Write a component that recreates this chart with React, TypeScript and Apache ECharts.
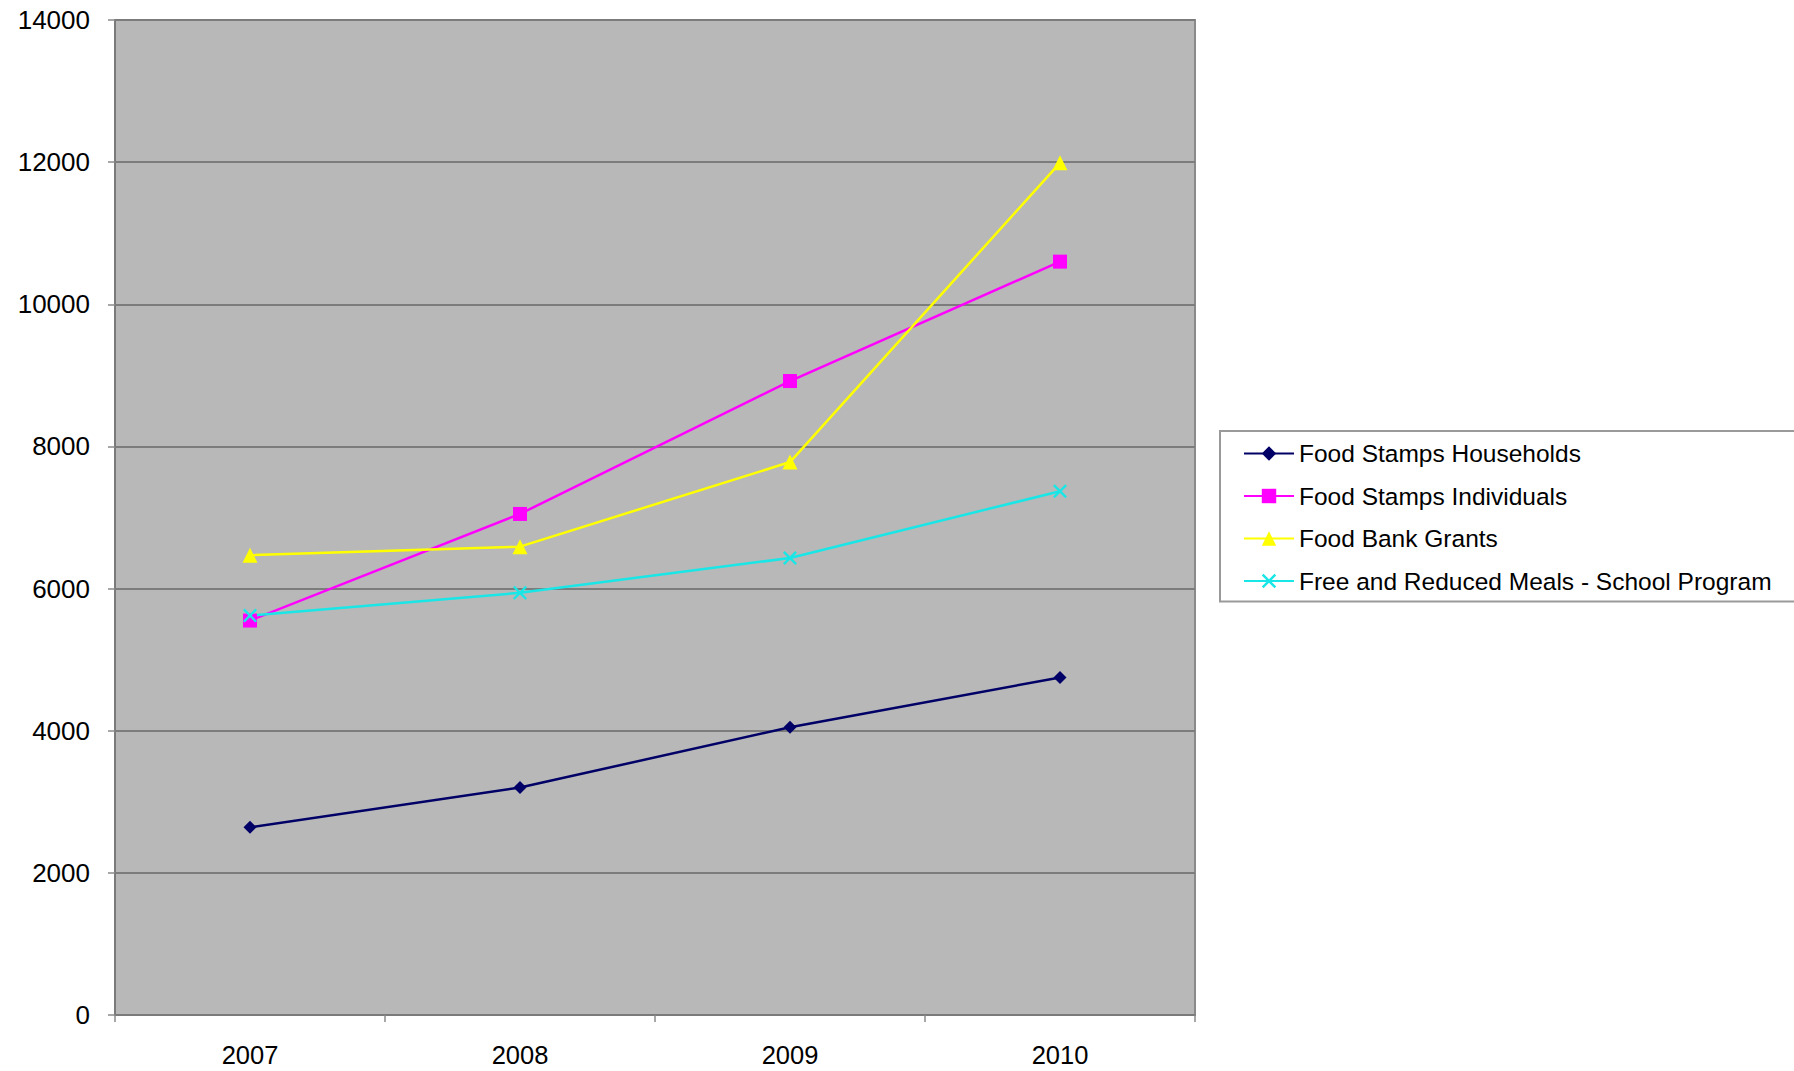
import React, { useEffect, useRef } from "react";
import * as echarts from "echarts";

const years = ["2007", "2008", "2009", "2010"];
const foodStampsHouseholds = [2640, 3200, 4050, 4750];
const foodStampsIndividuals = [5550, 7050, 8920, 10600];
const foodBankGrants = [6470, 6590, 7780, 11990];
const freeReducedMeals = [5620, 5940, 6430, 7370];
const seriesNames = [
  "Food Stamps Households",
  "Food Stamps Individuals",
  "Food Bank Grants",
  "Free and Reduced Meals - School Program",
];

const FONT = "'Liberation Sans', Arial, Helvetica, sans-serif";
const X_SYMBOL =
  "path://M0,1.2L1.2,0L5,3.8L8.8,0L10,1.2L6.2,5L10,8.8L8.8,10L5,6.2L1.2,10L0,8.8L3.8,5Z";

export default function App() {
  const ref = useRef<HTMLDivElement>(null);
  useEffect(() => {
    document.body.style.margin = "0";
    const chart = echarts.init(ref.current!, null, { renderer: "svg" });
    const mk = (name: string, data: number[], color: string, symbol: string, size: number) => ({
      name,
      type: "line",
      data,
      symbol,
      symbolSize: size,
      lineStyle: { color, width: 2.5 },
      itemStyle: { color },
      emphasis: { disabled: true },
    });
    chart.setOption({
      animation: false,
      backgroundColor: "#ffffff",
      textStyle: { fontFamily: FONT },
      grid: {
        left: 115,
        right: 599,
        top: 20,
        bottom: 56,
        show: true,
        backgroundColor: "#b8b8b8",
        borderColor: "#8a8a8a",
        borderWidth: 2,
      },
      legend: {
        orient: "vertical",
        left: 1220,
        top: 431,
        itemWidth: 50,
        itemHeight: 18,
        itemGap: 17.5,
        padding: [10, 60, 8, 23],
        borderColor: "#9a9a9a",
        borderWidth: 2,
        backgroundColor: "#ffffff",
        textStyle: { fontFamily: FONT, fontSize: 24.5, color: "#000000" },
        data: seriesNames,
      },
      xAxis: {
        type: "category",
        data: years,
        boundaryGap: true,
        axisLine: { lineStyle: { color: "#7a7a7a", width: 2 } },
        axisTick: { show: true, length: 7, lineStyle: { color: "#8a8a8a", width: 1.5 } },
        axisLabel: { fontFamily: FONT, fontSize: 25.5, color: "#000000", margin: 27 },
        splitLine: { show: false },
      },
      yAxis: {
        type: "value",
        min: 0,
        max: 14000,
        interval: 2000,
        axisLine: { show: true, lineStyle: { color: "#7a7a7a", width: 2 } },
        axisTick: { show: true, length: 7, lineStyle: { color: "#8a8a8a", width: 1.5 } },
        axisLabel: {
          fontFamily: FONT,
          fontSize: 26,
          color: "#000000",
          margin: 25,
          formatter: (v: number) => String(v),
        },
        splitLine: { show: true, lineStyle: { color: "#7c7c7c", width: 2 } },
      },
      series: [
        mk(seriesNames[0], foodStampsHouseholds, "#000066", "diamond", 13),
        mk(seriesNames[1], foodStampsIndividuals, "#ff00ff", "rect", 14),
        mk(seriesNames[2], foodBankGrants, "#ffff00", "triangle", 15),
        mk(seriesNames[3], freeReducedMeals, "#19e6e6", X_SYMBOL, 14),
      ],
    });
    return () => chart.dispose();
  }, []);
  return <div ref={ref} style={{ width: 1794, height: 1071 }} />;
}
